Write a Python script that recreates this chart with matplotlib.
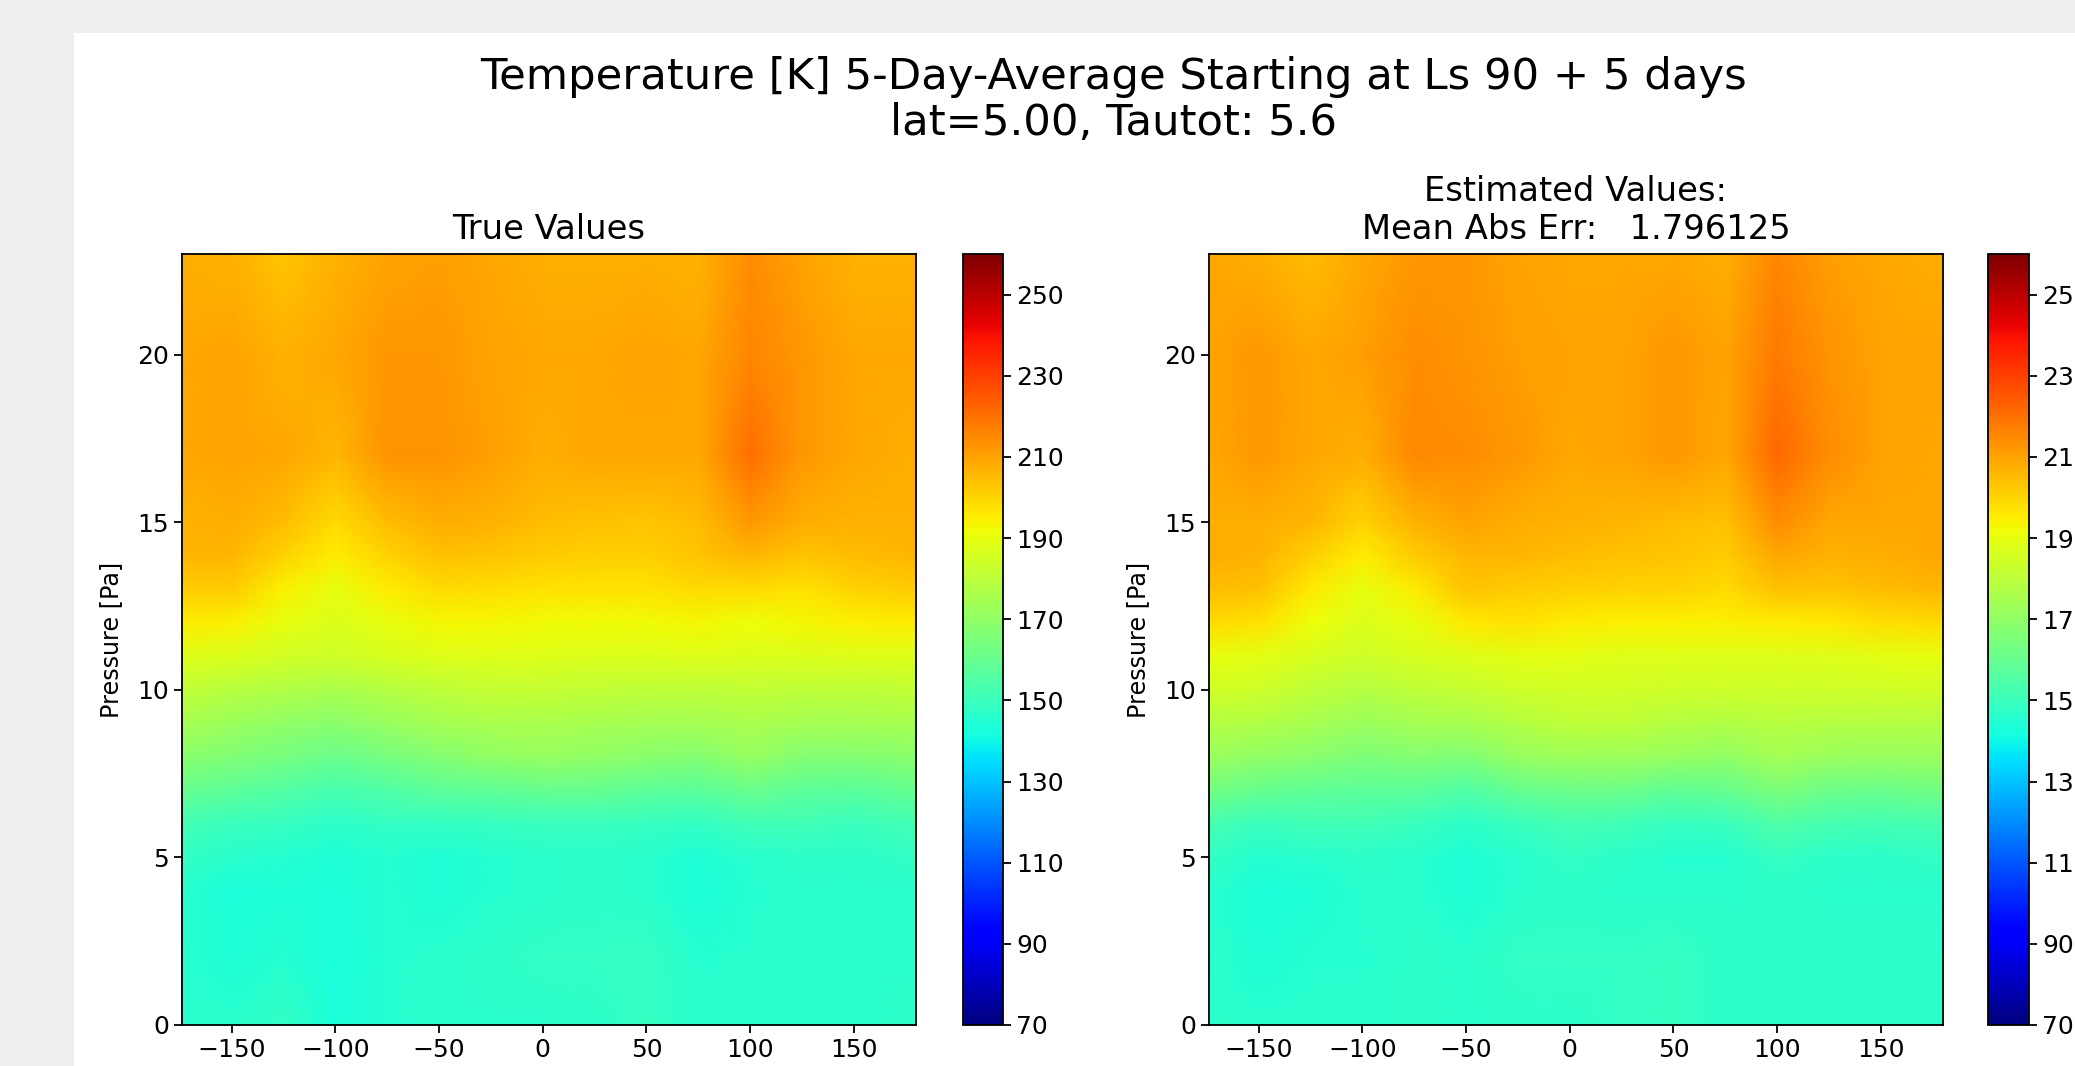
import matplotlib
matplotlib.use('Agg')
import matplotlib.pyplot as plt
from matplotlib.patches import Rectangle
import numpy as np

W, H = 2075, 1066

# longitude / pressure nodes
lons = [-174, -150, -125, -100, -75, -50, -25, 0, 25, 50, 75, 100, 125, 150, 180]
press = [0, 2, 4, 5, 6, 7, 8, 9, 10, 11, 12, 13, 14, 15, 17, 20, 23]

# temperature [K], one row per pressure level
true_vals = [
    [146, 146, 148, 143, 145, 146, 146, 146, 147, 149, 146, 146, 146, 146, 147],
    [146, 144, 145, 142, 145, 146, 147, 148, 148, 149, 145, 146, 146, 146, 146],
    [146, 143, 144, 143, 145, 144, 145, 146, 147, 146, 143, 145, 146, 146, 146],
    [148, 146, 145, 144, 145, 144, 145, 146, 147, 146, 144, 146, 147, 147, 148],
    [152, 150, 149, 147, 148, 148, 149, 150, 150, 149, 148, 151, 151, 150, 152],
    [160, 158, 156, 153, 155, 158, 159, 160, 160, 158, 157, 161, 158, 157, 160],
    [168, 166, 164, 161, 164, 167, 170, 171, 170, 168, 167, 171, 167, 167, 168],
    [175, 172, 170, 168, 171, 174, 176, 176, 175, 174, 174, 176, 174, 174, 175],
    [181, 179, 177, 176, 178, 180, 182, 182, 181, 180, 180, 181, 180, 180, 181],
    [188, 187, 185, 184, 186, 188, 188, 188, 187, 187, 188, 187, 187, 188, 188],
    [195, 194, 190, 187, 190, 193, 193, 192, 192, 192, 193, 191, 193, 194, 195],
    [202, 202, 194, 190, 195, 199, 198, 197, 197, 197, 199, 199, 197, 200, 202],
    [206, 206, 200, 195, 200, 204, 203, 202, 201, 201, 203, 206, 203, 205, 206],
    [207, 208, 205, 199, 205, 208, 207, 205, 204, 203, 205, 212, 208, 207, 207],
    [209, 210, 209, 206, 213, 213, 211, 208, 209, 209, 209, 220, 212, 209, 208],
    [209, 210, 207, 209, 212, 212, 210, 209, 209, 210, 209, 216, 212, 209, 209],
    [208, 207, 203, 207, 210, 211, 209, 208, 208, 208, 207, 214, 210, 207, 207],
]
est_vals = [
    [147, 146, 146, 146, 147, 146, 147, 147, 148, 149, 147, 147, 147, 147, 147],
    [147, 144, 145, 145, 147, 146, 148, 148, 148, 149, 147, 147, 147, 147, 147],
    [146, 143, 144, 146, 146, 144, 146, 147, 146, 146, 146, 147, 146, 146, 146],
    [148, 145, 146, 147, 146, 144, 146, 148, 147, 145, 145, 149, 147, 147, 148],
    [153, 150, 151, 151, 150, 147, 150, 152, 151, 149, 150, 155, 153, 152, 153],
    [163, 160, 159, 158, 158, 155, 160, 162, 162, 159, 160, 165, 162, 161, 163],
    [172, 170, 168, 165, 167, 166, 171, 173, 173, 171, 170, 174, 172, 171, 172],
    [178, 177, 175, 172, 174, 175, 178, 180, 180, 178, 177, 179, 178, 178, 178],
    [185, 184, 180, 178, 180, 182, 184, 185, 185, 184, 184, 184, 184, 184, 185],
    [190, 189, 186, 184, 186, 188, 189, 189, 188, 188, 188, 188, 188, 189, 190],
    [199, 197, 191, 187, 190, 196, 197, 195, 194, 194, 194, 195, 196, 198, 199],
    [205, 204, 196, 190, 195, 203, 202, 201, 200, 200, 199, 204, 203, 205, 206],
    [208, 207, 201, 195, 202, 206, 206, 205, 204, 203, 202, 209, 207, 208, 209],
    [208, 208, 206, 200, 207, 210, 208, 207, 206, 205, 204, 214, 209, 209, 209],
    [209, 212, 209, 208, 215, 214, 212, 209, 210, 212, 209, 222, 214, 210, 209],
    [210, 212, 209, 211, 214, 213, 211, 210, 210, 212, 210, 218, 213, 210, 210],
    [209, 208, 205, 209, 212, 212, 210, 209, 209, 209, 208, 216, 211, 209, 208],
]

cbar_ticks = [70, 90, 110, 130, 150, 170, 190, 210, 230, 250]
x_ticks = [-150, -100, -50, 0, 50, 100, 150]
y_ticks = [0, 5, 10, 15, 20]


def px_axes(fig, x0, x1, y0, y1):
    # pixel box (y from the top) to figure fractions
    return fig.add_axes([x0 / W, 1 - y1 / H, (x1 - x0) / W, (y1 - y0) / H])


def panel(fig, box, cbox, vals, title):
    ax = px_axes(fig, *box)
    mesh = ax.pcolormesh(lons, press, np.array(vals), cmap='jet', vmin=70, vmax=260,
                         shading='gouraud')
    ax.set_xlim(-174, 180)
    ax.set_ylim(0, 23)
    ax.set_xticks(x_ticks)
    ax.set_yticks(y_ticks)
    ax.tick_params(labelsize=18, width=1.3, length=5.8)
    ax.set_ylabel('Pressure [Pa]', fontsize=17.2, labelpad=10)
    ax.set_title(title, fontsize=24.3, pad=10.5)
    for s in ax.spines.values():
        s.set_linewidth(1.3)

    cax = px_axes(fig, *cbox)
    cb = fig.colorbar(mesh, cax=cax, ticks=cbar_ticks)
    cb.ax.tick_params(labelsize=18, width=1.3, length=5.8)
    cb.outline.set_linewidth(1.3)


fig = plt.figure(figsize=(W / 100, H / 100), dpi=100, facecolor='#eeeeee')
fig.patches.append(Rectangle((74 / W, 0), 1 - 74 / W, 1 - 33 / H, transform=fig.transFigure,
                             facecolor='white', edgecolor='none', figure=fig, zorder=-1))

panel(fig, (182, 916, 254, 1025), (963, 1003, 254, 1025), true_vals, 'True Values')
panel(fig, (1209, 1943, 254, 1025), (1988, 2029, 254, 1025), est_vals,
      'Estimated Values:\nMean Abs Err:   1.796125')

fig.text(1113 / W, 1 - 100 / H, 'Temperature [K] 5-Day-Average Starting at Ls 90 + 5 days\nlat=5.00, Tautot: 5.6',
         ha='center', va='center', fontsize=31.2, linespacing=1.12)

fig.savefig('out.png', dpi=100, facecolor=fig.get_facecolor())
